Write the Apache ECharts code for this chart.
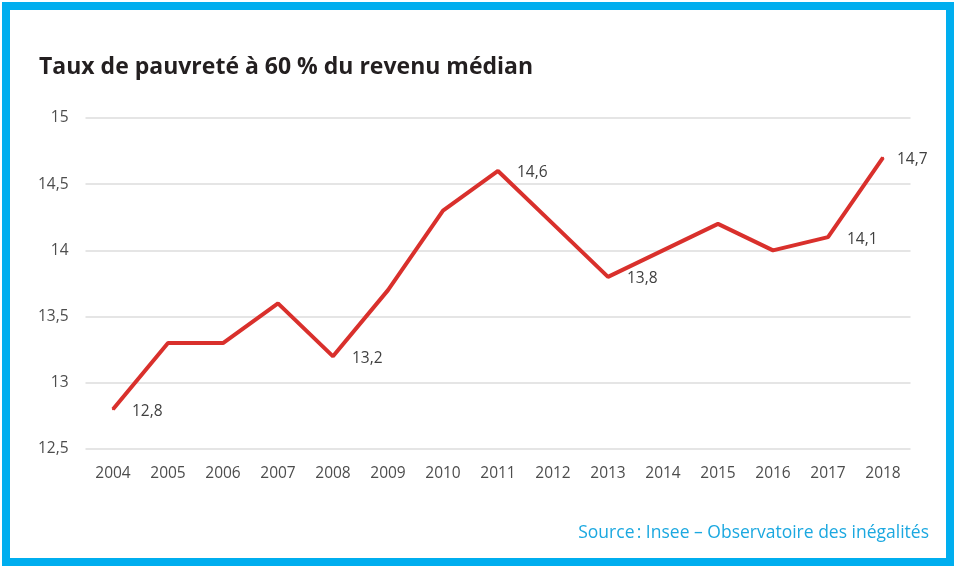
<!DOCTYPE html>
<html><head><meta charset="utf-8">
<script src="https://cdn.jsdelivr.net/npm/echarts@6/dist/echarts.min.js"></script>
<style>
html,body{margin:0;padding:0;background:#fff;}
#c{width:956px;height:568px;}
</style></head><body>
<div id="c"></div>
<script>
const categories = ['2004','2005','2006','2007','2008','2009','2010','2011','2012','2013','2014','2015','2016','2017','2018'];
const values = [12.8,13.3,13.3,13.6,13.2,13.7,14.3,14.6,14.2,13.8,14.0,14.2,14.0,14.1,14.7];
const labelledYears = ['2004','2008','2011','2013','2017','2018'];
const titleText = 'Taux de pauvreté à 60 % du revenu médian';
const sourceText = 'Source\u202f: Insee – Observatoire des inégalités';

const chart = echarts.init(document.getElementById('c'));
const fmt = v => String(v).replace('.', ',');
chart.setOption({
  animation: false,
  backgroundColor: '#fff',
  graphic: [
    {type:'rect', shape:{x:6,y:6,width:944,height:556}, style:{fill:'none', stroke:'#00AEEF', lineWidth:8}, z:0}
  ],
  title: [
    {text: titleText, left: 34, top: 51, textStyle:{fontFamily:'Open Sans', fontWeight:'bold', fontSize:23, color:'#231f20'}},
    {text: sourceText, right: 22, top: 519, textStyle:{fontFamily:'Open Sans', fontWeight:'normal', fontSize:17.5, color:'#1BA8E0'}}
  ],
  grid: {left: 85.5, right: 45.5, top: 118, bottom: 119, containLabel:false},
  xAxis: {
    type:'category', data: categories, boundaryGap: true,
    axisLine:{show:false}, axisTick:{show:false},
    axisLabel:{color:'#4d4d4d', fontFamily:'Open Sans', fontSize:15.5, margin:17}
  },
  yAxis: {
    type:'value', min:12.5, max:15, interval:0.5,
    axisLine:{show:false}, axisTick:{show:false},
    splitLine:{lineStyle:{color:'#dcdcdc', width:1.5}},
    axisLabel:{color:'#4d4d4d', fontFamily:'Open Sans', fontSize:15.5, margin:17, formatter: v => fmt(v)}
  },
  series: [{
    type:'line',
    data: values.map((v,i)=>{
      const lab = {show: labelledYears.includes(categories[i])};
      if (i === values.length - 1) lab.distance = 13;
      return {value:v, label:lab};
    }),
    showSymbol:true, symbol:'circle', symbolSize:2,
    itemStyle:{color:'#d9302c'},
    lineStyle:{color:'#d9302c', width:4},
    label:{show:false, position:'right', distance:18, offset:[0,2], color:'#404040', fontFamily:'Open Sans', fontSize:15.5, formatter: p => fmt(p.value)}
  }]
});
</script>
</body></html>
